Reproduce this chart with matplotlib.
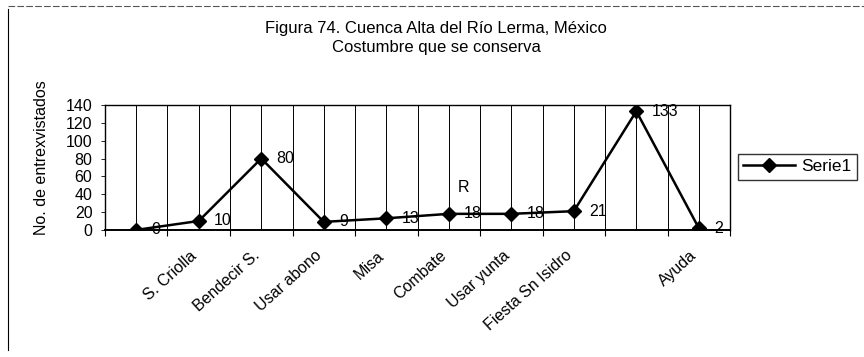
#!/usr/bin/env python3

"""Figura 74: costumbre que se conserva (line chart, Excel style)."""

import numpy as np
import matplotlib
matplotlib.use("Agg")
import matplotlib.pyplot as plt
import matplotlib.transforms as mtransforms
from matplotlib.lines import Line2D

# Data
categories = ["", "S. Criolla", "Bendecir S.", "Usar abono", "Misa", "Combate",
              "Usar yunta", "Fiesta Sn Isidro", "", "Ayuda"]
values = [0, 10, 80, 9, 13, 18, 18, 21, 133, 2]
y_ticks = [0, 20, 40, 60, 80, 100, 120, 140]
series_name = "Serie1"


def main():
    plt.rcParams.update({
        "font.family": ["Liberation Sans", "DejaVu Sans"],
        "font.size": 11,
    })

    fig = plt.figure(figsize=(8.64, 3.57), dpi=100)
    ax = fig.add_axes([0.1215, 0.356, 0.7235, 0.35])

    x = np.arange(len(values))
    ax.plot(x, values, "-", color="black", linewidth=1.8,
            marker="D", markersize=7.5, zorder=3)

    # data labels
    for xi, v in zip(x, values):
        ax.annotate(str(v), (xi, v), xytext=(11, 0), textcoords="offset points",
                    ha="left", va="center", fontsize=11.5, zorder=4)
    ax.text(5.15, 47, "R", fontsize=11.5, ha="left", va="center")

    # vertical gridlines at every half category
    for gx in np.arange(-0.5, len(values), 0.5):
        ax.axvline(gx, color="black", linewidth=0.7, zorder=1)

    ax.set_xlim(-0.5, len(values) - 0.5)
    ax.set_ylim(0, 140)
    ax.set_yticks(y_ticks)
    ax.set_yticklabels([str(t) for t in y_ticks], fontsize=11.5)
    ax.tick_params(axis="y", direction="out", length=3, width=0.6, pad=6)

    ax.set_xticks(x)
    ax.set_xticklabels(categories, rotation=42, ha="right",
                       rotation_mode="anchor", fontsize=11.5)
    ax.tick_params(axis="x", which="major", length=0, pad=13)
    shift = mtransforms.ScaledTranslation(-9 / 100, 0, fig.dpi_scale_trans)
    for lab in ax.get_xticklabels():
        lab.set_transform(lab.get_transform() + shift)
    ax.set_xticks(np.arange(-0.5, len(values), 1.0), minor=True)
    ax.tick_params(axis="x", which="minor", direction="out", length=4, width=0.8)

    for s in ax.spines.values():
        s.set_linewidth(1.0)
        s.set_color("black")
    ax.spines["bottom"].set_linewidth(1.4)

    ax.set_ylabel("No. de entrexvistados", fontsize=11.5, labelpad=14)
    ax.yaxis.set_label_coords(-0.09, 0.58)

    fig.text(0.505, 0.919, "Figura 74. Cuenca Alta del Río Lerma, México",
             ha="center", va="center", fontsize=12)
    fig.text(0.505, 0.868, "Costumbre que se conserva",
             ha="center", va="center", fontsize=12)

    handle = Line2D([], [], color="black", linewidth=1.8, marker="D", markersize=7.5)
    fig.legend([handle], [series_name], loc="center left",
               bbox_to_anchor=(0.854, 0.533), frameon=True, fancybox=False,
               edgecolor="black", fontsize=12.5, handlelength=3.0,
               borderpad=0.3, handletextpad=0.35, borderaxespad=0)

    # page frame, left and top edges only
    fig.add_artist(Line2D([0.009, 0.009], [0.02, 0.975], color="black",
                          linewidth=0.8, transform=fig.transFigure))
    fig.add_artist(Line2D([0.009, 1.0], [0.983, 0.983], color="#555555",
                          linewidth=0.8, linestyle=(0, (6, 2)),
                          transform=fig.transFigure))

    fig.savefig("out.png", dpi=100)
    plt.close(fig)


if __name__ == "__main__":
    main()
